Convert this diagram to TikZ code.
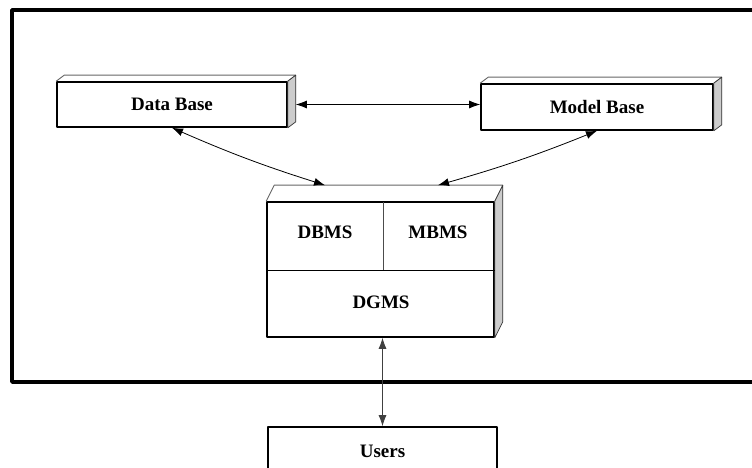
\documentclass[tikz,border=0pt]{standalone}
\usepackage{fontspec}
\setmainfont{Liberation Serif}
\usetikzlibrary{arrows.meta}
\tikzset{
  box/.style={draw,rectangle,line width=1.6bp,inner sep=0pt,font=\bfseries\fontsize{19bp}{22bp}\selectfont},
  lbl/.style={inner sep=0pt,font=\bfseries\fontsize{19bp}{22bp}\selectfont},
  face/.style={draw=black!60,line width=0.9bp},
  side/.style={draw=black!80,fill=black!20,line width=0.7bp},
  link/.style={line width=0.8bp},
}
\begin{document}
\begin{tikzpicture}[>={Latex[length=11bp,width=8bp]},line join=bevel,]
\useasboundingbox (0bp,0bp) rectangle (752bp,468bp);
\clip (0bp,0bp) rectangle (752bp,468bp);
%%
\draw [line width=3.6bp] (12bp,458bp) rectangle (770bp,86bp);
\node (db) at (172bp,363.5bp) [box,minimum width=230bp,minimum height=45bp] {Data Base};
  \node (mb) at (597bp,361bp) [box,minimum width=232bp,minimum height=46bp] {Model Base};
  \node (core) at (380.5bp,198.5bp) [box,minimum width=227bp,minimum height=135bp] {};
  \node (dbms) at (325bp,236bp) [lbl] {DBMS};
  \node (mbms) at (438bp,236bp) [lbl] {MBMS};
  \node (dgms) at (381bp,166bp) [lbl] {DGMS};
  \node (users) at (382.5bp,17bp) [box,minimum width=229bp,minimum height=48bp] {Users};
%
\draw [face] (db.north west) -- ++(8bp,6bp) -- ([shift={(8bp,6bp)}]db.north east) -- (db.north east);
  \draw [side] (db.north east) -- ([shift={(8bp,6bp)}]db.north east) -- ([shift={(8bp,6bp)}]db.south east) -- (db.south east) -- cycle;
  \draw [face] (mb.north west) -- ++(8bp,6bp) -- ([shift={(8bp,6bp)}]mb.north east) -- (mb.north east);
  \draw [side] (mb.north east) -- ([shift={(8bp,6bp)}]mb.north east) -- ([shift={(8bp,6bp)}]mb.south east) -- (mb.south east) -- cycle;
  \draw [face] (core.north west) -- ++(8bp,16bp) -- ([shift={(8bp,16bp)}]core.north east) -- (core.north east);
  \draw [side] (core.north east) -- ([shift={(8bp,16bp)}]core.north east) -- ([shift={(8bp,16bp)}]core.south east) -- (core.south east) -- cycle;
  \draw [line width=0.9bp] (core.west |- 0,198bp) -- (core.east |- 0,198bp);
  \draw [line width=0.9bp,black!70] (383bp,198bp) -- (383bp,266bp);
%
\coordinate (dbside) at ([xshift=8bp]db.east);
  \coordinate (coretop) at ([yshift=16bp]core.north);
  \draw [<->,link] (dbside) -- (dbside -| mb.west);
  \draw [<->,link] (db.south) to[bend right=3] (dbms |- coretop);
  \draw [<->,link] (mb.south) to[bend left=3] (mbms |- coretop);
  \draw [<->,link,black!75] (users.north |- core.south) -- (users.north);
%
\end{tikzpicture}
\end{document}
